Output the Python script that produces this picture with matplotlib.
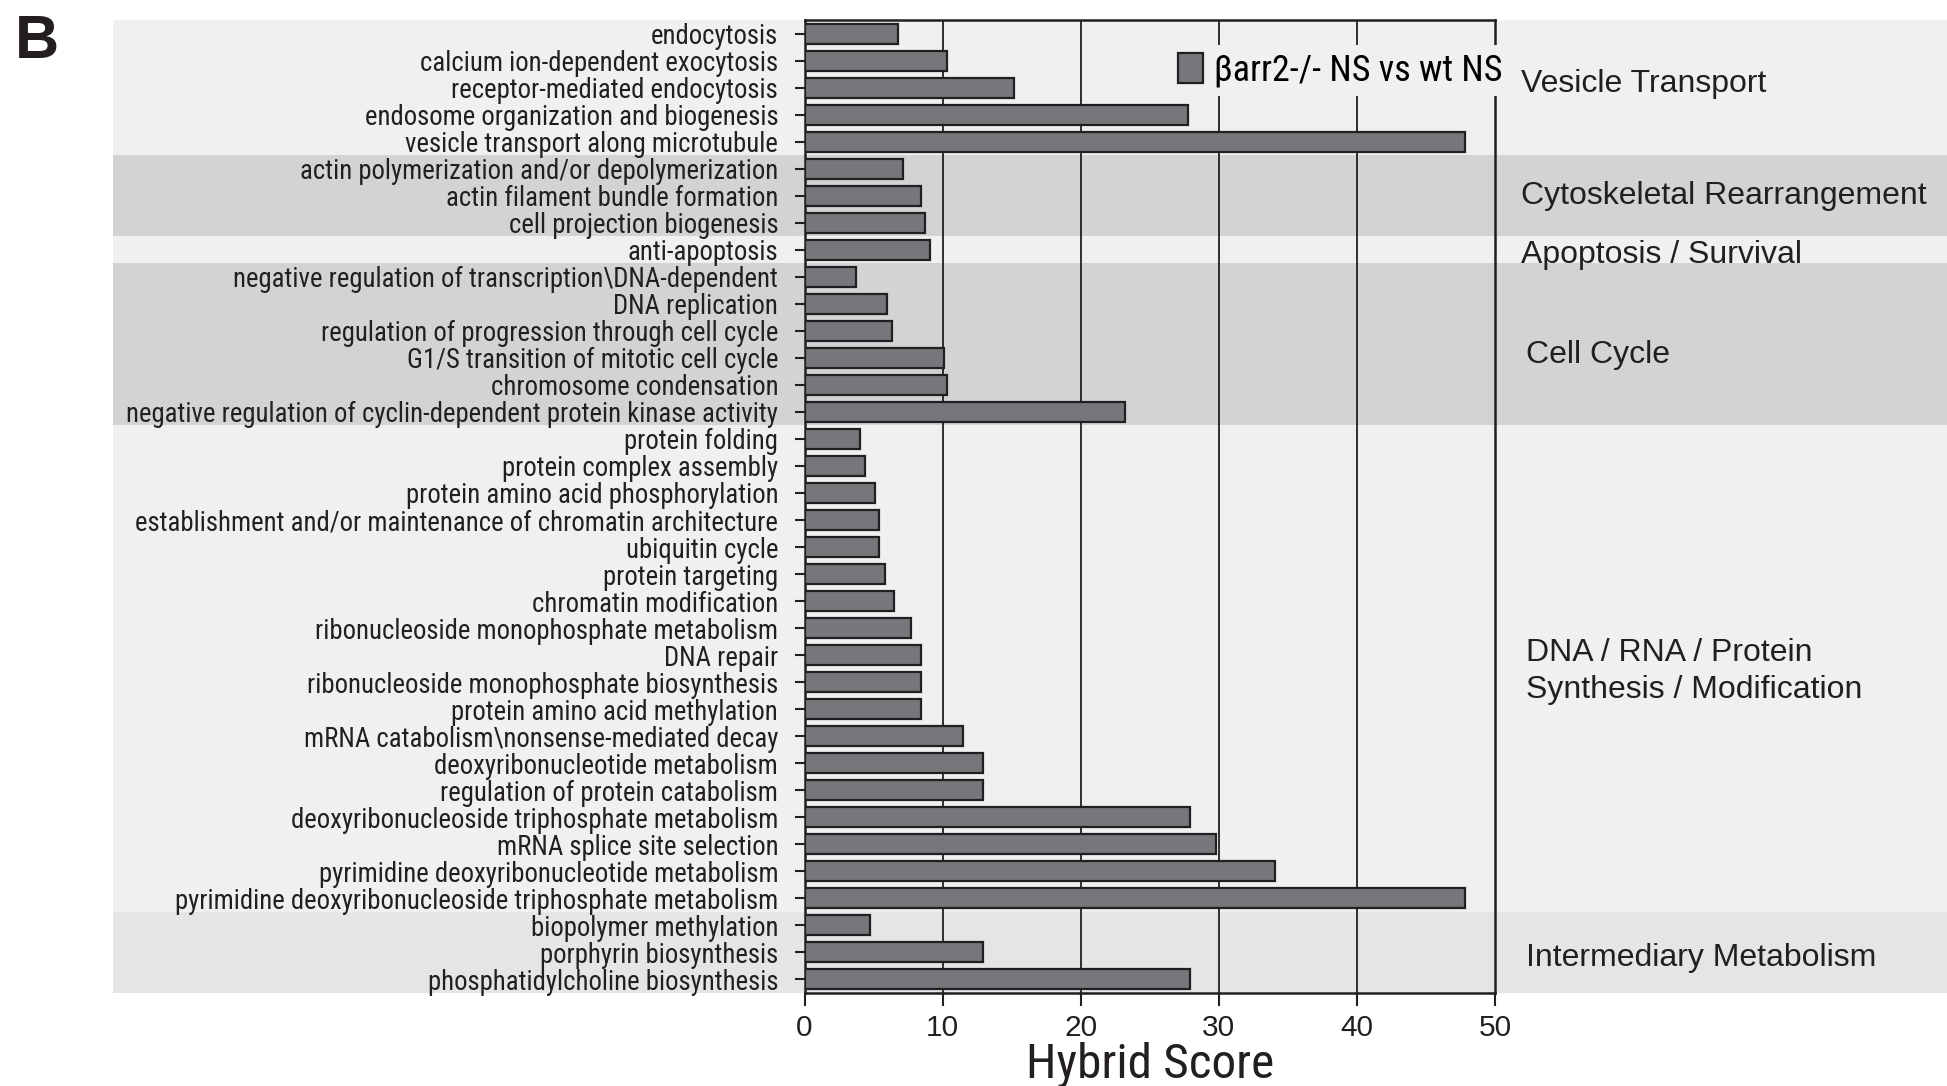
import matplotlib.pyplot as plt
from matplotlib.patches import Rectangle
from matplotlib.transforms import blended_transform_factory

# GO terms (top to bottom) and hybrid scores
terms = [
    "endocytosis",
    "calcium ion-dependent exocytosis",
    "receptor-mediated endocytosis",
    "endosome organization and biogenesis",
    "vesicle transport along microtubule",
    "actin polymerization and/or depolymerization",
    "actin filament bundle formation",
    "cell projection biogenesis",
    "anti-apoptosis",
    "negative regulation of transcription\\DNA-dependent",
    "DNA replication",
    "regulation of progression through cell cycle",
    "G1/S transition of mitotic cell cycle",
    "chromosome condensation",
    "negative regulation of cyclin-dependent protein kinase activity",
    "protein folding",
    "protein complex assembly",
    "protein amino acid phosphorylation",
    "establishment and/or maintenance of chromatin architecture",
    "ubiquitin cycle",
    "protein targeting",
    "chromatin modification",
    "ribonucleoside monophosphate metabolism",
    "DNA repair",
    "ribonucleoside monophosphate biosynthesis",
    "protein amino acid methylation",
    "mRNA catabolism\\nonsense-mediated decay",
    "deoxyribonucleotide metabolism",
    "regulation of protein catabolism",
    "deoxyribonucleoside triphosphate metabolism",
    "mRNA splice site selection",
    "pyrimidine deoxyribonucleotide metabolism",
    "pyrimidine deoxyribonucleoside triphosphate metabolism",
    "biopolymer methylation",
    "porphyrin biosynthesis",
    "phosphatidylcholine biosynthesis",
]
scores = [
    6.8, 10.3, 15.2, 27.8, 47.8,
    7.15, 8.4, 8.7,
    9.1,
    3.7, 5.95, 6.3, 10.1, 10.3, 23.2,
    4.0, 4.4, 5.1, 5.4, 5.4, 5.8, 6.5, 7.7, 8.4, 8.4, 8.4,
    11.5, 12.9, 12.9, 27.9, 29.8, 34.1, 47.8,
    4.75, 12.9, 27.9,
]
group_names = [
    "Vesicle Transport",
    "Cytoskeletal Rearrangement",
    "Apoptosis / Survival",
    "Cell Cycle",
    "DNA / RNA / Protein\nSynthesis / Modification",
    "Intermediary Metabolism",
]
group_sizes = [5, 3, 1, 6, 18, 3]
series_label = "\u03b2arr2-/- NS vs wt NS"
xticks = [0, 10, 20, 30, 40, 50]

# styling
band_colors = ["#f0f0f0", "#d2d3d5", "#f0f0f0", "#d2d3d5", "#f0f0f0", "#e4e5e7"]
group_text_x = [1521, 1521, 1521, 1526, 1526, 1526]   # figure pixels
group_text_dy = [-0.15, 0.0, 0.2, 0.4, 0.1, 0.2]      # row offsets
narrow = ["Roboto Condensed", "DejaVu Sans"]
regular = ["Liberation Sans", "DejaVu Sans"]
ink = "#231f20"

W, H = 1947, 1086
fig = plt.figure(figsize=(W / 100, H / 100), dpi=100)
ax = fig.add_axes([804.6 / W, 1 - 993 / H, (1495 - 804.6) / W, (993 - 20) / H])
ax.set_facecolor("none")

n = len(terms)
ypos = list(range(n))

# background bands across the figure width
trans = blended_transform_factory(fig.transFigure, ax.transData)
start = 0
for name, size, col, tx, dy in zip(group_names, group_sizes, band_colors,
                                   group_text_x, group_text_dy):
    ax.add_patch(Rectangle((113 / W, start - 0.5), 1 - 113 / W, size,
                           transform=trans, facecolor=col, edgecolor="none",
                           zorder=-5, clip_on=False))
    ax.text(tx / W, start + (size - 1) / 2 + dy, name, transform=trans,
            ha="left", va="center", fontsize=23, family=regular,
            color=ink, linespacing=1.3)
    start += size

# vertical grid lines
for v in xticks[1:-1]:
    ax.axvline(v, color=ink, lw=1.3, zorder=1)

ax.barh(ypos, scores, height=0.74, color="#76777b", edgecolor=ink,
        linewidth=1.6, zorder=3, label=series_label)

ax.set_xlim(0, 50)
ax.set_ylim(n - 0.5, -0.5)
ax.set_yticks(ypos)
ax.set_yticklabels(terms, family=narrow, fontsize=19.3, color=ink)
ax.set_xticks(xticks)
ax.set_xticklabels([str(t) for t in xticks], family=regular, fontsize=21.5,
                   color=ink)
ax.tick_params(axis="y", length=7, width=1.5, pad=12, color=ink)
ax.tick_params(axis="x", length=9, width=1.5, pad=6, color=ink)
for s in ax.spines.values():
    s.set_linewidth(1.8)
    s.set_color(ink)
    s.set_zorder(2)

ax.set_xlabel("Hybrid Score", family=narrow, fontsize=35.5, color=ink,
              labelpad=0)

leg = ax.legend(loc="center left", bbox_to_anchor=(0.53, 0.948),
                prop={"family": narrow, "size": 26}, frameon=True,
                fancybox=False, handlelength=0.7, handleheight=0.9,
                handletextpad=0.3, borderpad=0.2, borderaxespad=0)
leg.get_frame().set_facecolor("#f0f0f0")
leg.get_frame().set_edgecolor("none")
leg.get_frame().set_alpha(1)
leg.set_zorder(10)

fig.text(15 / W, 1 - 14 / H, "B", ha="left", va="top", fontsize=44,
         fontweight="bold", family=regular, color=ink)

fig.savefig("out.png", dpi=100)
